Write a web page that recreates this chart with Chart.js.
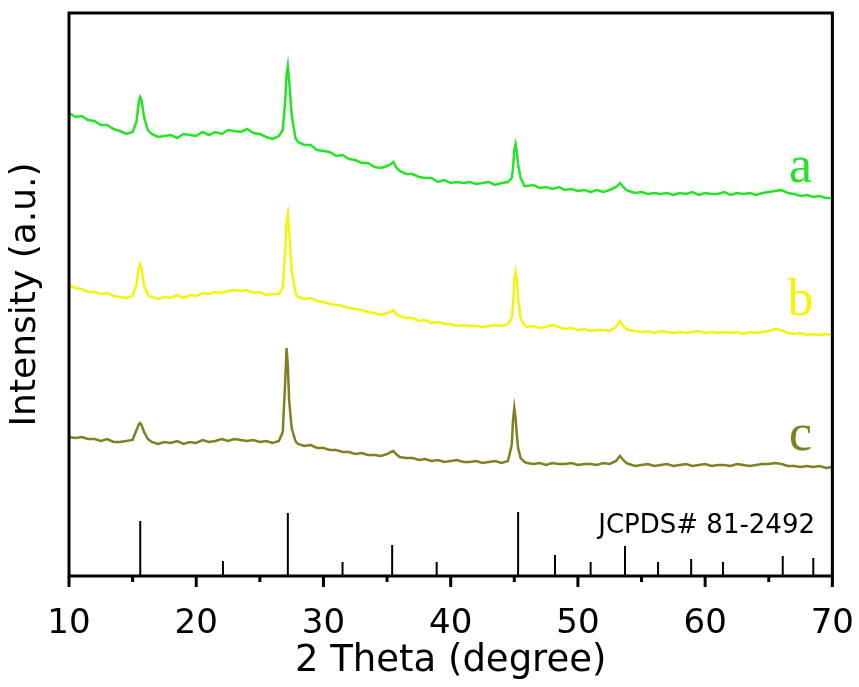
<!DOCTYPE html>
<html>
<head>
<meta charset="utf-8">
<script src="https://cdn.jsdelivr.net/npm/chart.js@4.4.1/dist/chart.umd.min.js"></script>
<style>
  html, body { margin: 0; padding: 0; background: #fff; }
  .wrap { width: 859px; height: 687px; position: relative; }
</style>
</head>
<body>
<div class="wrap"><canvas id="xrdChart"></canvas></div>
<script>
// 2 theta sampling (denser around the peaks)
const angles = [
  10, 10.5, 11, 11.5, 12, 12.5, 13, 13.5, 14, 14.5, 15,
  15.3, 15.5, 15.6, 15.7, 15.9, 16.2,
  16.5, 17, 17.5, 18, 18.5, 19, 19.5, 20, 20.5, 21, 21.5, 22, 22.5, 23, 23.5, 24, 24.5, 25, 25.5, 26, 26.5,
  26.8, 27.0, 27.1, 27.2, 27.3, 27.5, 27.8,
  28, 28.5, 29, 29.5, 30, 30.5, 31, 31.5, 32, 32.5, 33, 33.5, 34, 34.5, 35,
  35.3, 35.5, 35.7,
  36, 36.5, 37, 37.5, 38, 38.5, 39, 39.5, 40, 40.5, 41, 41.5, 42, 42.5, 43, 43.5, 44, 44.5,
  44.8, 44.9, 45.0, 45.1, 45.2, 45.3, 45.5, 45.8,
  46, 46.5, 47, 47.5, 48, 48.5, 49, 49.5, 50, 50.5, 51, 51.5, 52, 52.5, 53,
  53.3, 53.5, 53.8,
  54, 54.5, 55, 55.5, 56, 56.5, 57, 57.5, 58, 58.5, 59, 59.5, 60, 60.5, 61, 61.5, 62, 62.5, 63, 63.5, 64, 64.5, 65, 65.5, 66, 66.5, 67, 67.5, 68, 68.5, 69, 69.5, 70
];

const intensityA = [
  463, 459, 460, 456, 455, 451, 451, 447, 445, 442, 444,
  454, 475, 479, 476, 459, 446,
  442, 439, 440, 441, 438, 442, 441, 440, 444, 441, 444, 442, 446, 445, 444, 447, 443, 442, 439, 437, 440,
  446, 476, 501, 510, 496, 461, 438,
  434, 431, 431, 426, 425, 424, 420, 421, 417, 416, 413, 413, 409, 408, 410,
  412, 414, 409,
  405, 402, 402, 399, 398, 398, 394, 396, 393, 394, 393, 394, 392, 393, 394, 391, 393, 394,
  398, 408, 426, 432, 424, 411, 398, 390,
  390, 391, 388, 389, 387, 389, 386, 387, 385, 386, 384, 386, 384, 386, 389,
  393, 390, 386,
  385, 383, 384, 382, 383, 382, 383, 381, 383, 382, 384, 381, 383, 382, 382, 384, 381, 383, 382, 383, 381, 383, 384, 385, 386, 383, 382, 380, 381, 379, 380, 378, 378
];

const intensityB = [
  291, 288, 287, 284, 284, 282, 283, 280, 279, 278, 280,
  291, 309, 312, 308, 291, 281,
  279, 277, 279, 278, 281, 278, 281, 280, 283, 282, 284, 283, 285, 286, 285, 286, 283, 284, 281, 282, 282,
  288, 326, 354, 362, 346, 306, 283,
  279, 277, 278, 275, 274, 272, 271, 270, 268, 267, 266, 264, 263, 261, 263,
  264, 266, 262,
  260, 258, 258, 255, 256, 253, 254, 252, 252, 250, 251, 250, 250, 249, 250, 251, 250, 252,
  258, 271, 296, 304, 296, 278, 258, 251,
  249, 250, 248, 249, 251, 249, 247, 248, 246, 247, 245, 246, 246, 245, 249,
  255, 251, 247,
  246, 245, 244, 245, 243, 245, 244, 243, 244, 243, 244, 245, 243, 244, 243, 244, 243, 244, 242, 244, 243, 244, 245, 247, 246, 243, 242, 243, 241, 242, 241, 242, 241
];

const intensityC = [
  139, 138, 139, 137, 137, 135, 137, 134, 134, 135, 136,
  146, 152, 153, 151, 144, 137,
  134, 132, 134, 133, 135, 132, 134, 133, 136, 134, 135, 137, 135, 137, 136, 135, 136, 134, 135, 133, 135,
  144, 196, 228, 211, 176, 148, 135,
  132, 130, 131, 128, 128, 126, 126, 124, 124, 122, 123, 121, 121, 120, 122,
  124, 125, 122,
  119, 118, 118, 116, 117, 115, 116, 114, 115, 116, 114, 114, 115, 113, 114, 115, 113, 115,
  131, 156, 168, 158, 141, 128, 118, 114,
  113, 112, 113, 111, 113, 112, 112, 113, 111, 112, 112, 111, 113, 112, 115,
  120, 117, 113,
  112, 110, 111, 112, 110, 111, 112, 110, 111, 112, 110, 111, 112, 110, 111, 111, 110, 112, 111, 110, 111, 112, 112, 113, 112, 110, 110, 109, 110, 109, 110, 108, 109
];

// JCPDS# 81-2492 reference lines
const refAngles = [15.6, 22.1, 27.2, 31.5, 35.4, 38.9, 45.3, 48.2, 51.0, 53.7, 56.3, 58.9, 61.4, 66.1, 68.5];
const refHeights = [55, 15, 63, 14, 31, 14, 64, 21, 14, 30, 14, 17, 14, 20, 18];

const xTicks = [10, 20, 30, 40, 50, 60, 70];
const xMinorTicks = [15, 25, 35, 45, 55, 65];

const green = '#25e325';
const yellow = '#f4f40a';
const olive = '#808022';

function toPoints(ys) {
  return angles.map((a, i) => ({ x: a, y: ys[i] }));
}

const refPoints = [];
refAngles.forEach((a, i) => {
  refPoints.push({ x: a, y: 0 }, { x: a, y: refHeights[i] }, { x: a, y: null });
});

const curveLabels = [
  { text: 'a', x: 67.5, y: 394, color: green },
  { text: 'b', x: 67.5, y: 261, color: yellow },
  { text: 'c', x: 67.5, y: 126, color: olive }
];

const framePlugin = {
  id: 'frame',
  afterDatasetsDraw(chart) {
    const { ctx, chartArea: ca, scales } = chart;
    const xs = scales.x, ys = scales.y;
    ctx.save();
    ctx.strokeStyle = '#000';
    ctx.lineWidth = 3;
    ctx.strokeRect(ca.left, ca.top, ca.right - ca.left, ca.bottom - ca.top);

    // major + minor ticks below the axis
    xTicks.forEach(v => {
      const px = xs.getPixelForValue(v);
      ctx.beginPath();
      ctx.moveTo(px, ca.bottom);
      ctx.lineTo(px, ca.bottom + 11);
      ctx.stroke();
    });
    xMinorTicks.forEach(v => {
      const px = xs.getPixelForValue(v);
      ctx.beginPath();
      ctx.moveTo(px, ca.bottom);
      ctx.lineTo(px, ca.bottom + 6);
      ctx.stroke();
    });

    ctx.font = '52px "Liberation Serif"';
    ctx.textAlign = 'center';
    ctx.textBaseline = 'alphabetic';
    curveLabels.forEach(l => {
      ctx.fillStyle = l.color;
      ctx.fillText(l.text, xs.getPixelForValue(l.x), ys.getPixelForValue(l.y));
    });

    ctx.font = '26px "DejaVu Sans"';
    ctx.fillStyle = '#000';
    ctx.textAlign = 'left';
    ctx.fillText('JCPDS# 81-2492', xs.getPixelForValue(51.6), ys.getPixelForValue(43));
    ctx.restore();
  }
};

new Chart(document.getElementById('xrdChart'), {
  type: 'line',
  data: {
    datasets: [
      { data: toPoints(intensityA), borderColor: green, borderWidth: 2.5 },
      { data: toPoints(intensityB), borderColor: yellow, borderWidth: 2.5 },
      { data: toPoints(intensityC), borderColor: olive, borderWidth: 2.5 },
      { data: refPoints, borderColor: '#000', borderWidth: 2, spanGaps: false }
    ]
  },
  options: {
    responsive: true,
    maintainAspectRatio: false,
    animation: false,
    layout: { padding: { top: 13, right: 20, left: 0, bottom: 0 } },
    elements: { point: { radius: 0 }, line: { tension: 0 } },
    plugins: { legend: { display: false }, tooltip: { enabled: false } },
    scales: {
      x: {
        type: 'linear',
        min: 10,
        max: 70,
        afterBuildTicks: s => { s.ticks = xTicks.map(v => ({ value: v })); },
        afterFit: s => { s.height = 111; },
        border: { display: false },
        grid: { drawOnChartArea: false, drawTicks: true, tickLength: 23, tickColor: 'rgba(0,0,0,0)' },
        ticks: { color: '#000', font: { family: 'DejaVu Sans', size: 34 }, padding: 5, maxRotation: 0 },
        title: {
          display: true,
          text: '2 Theta (degree)',
          color: '#000',
          font: { family: 'DejaVu Sans', size: 37 },
          padding: { top: 0, bottom: 3 }
        }
      },
      y: {
        min: 0,
        max: 563,
        afterFit: s => { s.width = 69; },
        border: { display: false },
        grid: { display: false },
        ticks: { display: false },
        title: {
          display: true,
          text: 'Intensity (a.u.)',
          color: '#000',
          font: { family: 'DejaVu Sans', size: 36 },
          padding: { top: 4, bottom: 0 }
        }
      }
    }
  },
  plugins: [framePlugin]
});
</script>
</body>
</html>
